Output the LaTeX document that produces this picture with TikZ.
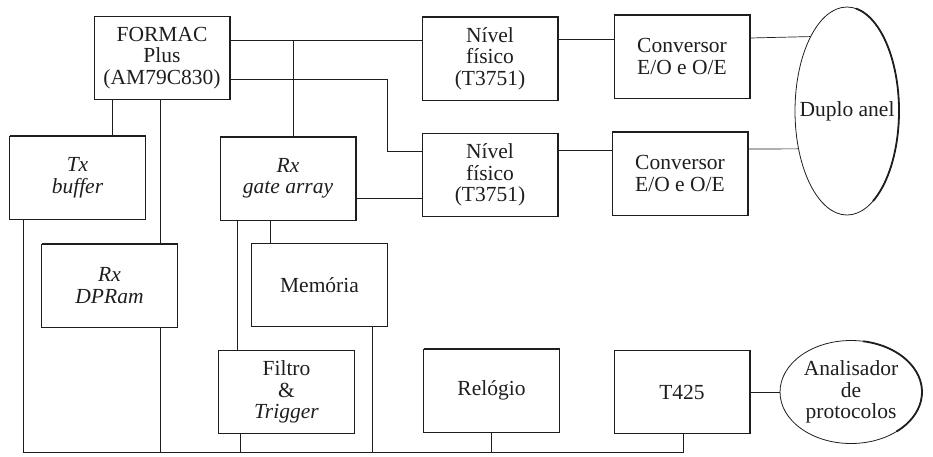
\documentclass[tikz,border=0pt]{standalone}
\usepackage{fontspec}
\setmainfont{Liberation Serif}
\usetikzlibrary{shapes.geometric,calc}
\definecolor{LineClr}{RGB}{30,30,30}

\begin{document}
\begin{tikzpicture}[x=1pt,y=-1pt,
  txt/.style={text=LineClr,align=center,font=\fontsize{21.5}{21.5}\selectfont},
  blk/.style={txt,draw=LineClr,line width=0.8pt,rectangle,inner sep=0pt,outer sep=0pt,
    minimum width=136pt,minimum height=83pt},
  oval/.style={txt,draw=LineClr,line width=0.8pt,ellipse,inner sep=0pt,outer sep=0pt},
  wire/.style={draw=LineClr,line width=0.7pt}]
\useasboundingbox (0,0) rectangle (933,456);

\node[blk] (formac) at (162,58) {FORMAC\\Plus\\(AM79C830)};
\node[blk] (txbuf) at (77.5,177.5) {\textit{Tx}\\\textit{buffer}};
\node[blk] (rxgate) at (288,178.5) {\textit{Rx}\\\textit{gate array}};
\node[blk] (nivA) at (490,58.5) {Nível\\físico\\(T3751)};
\node[blk] (nivB) at (490,175) {Nível\\físico\\(T3751)};
\node[blk] (convA) at (682,56.5) {Conversor\\E/O e O/E};
\node[blk] (convB) at (680,173.5) {Conversor\\E/O e O/E};
\node[blk] (rxdpram) at (109.5,285.5) {\textit{Rx}\\\textit{DPRam}};
\node[blk] (memoria) at (319.5,285) {Memória};
\node[blk] (filtro) at (286.5,392) {Filtro\\\&\\\textit{Trigger}};
\node[blk] (relogio) at (491.5,390.5) {Relógio};
\node[blk] (t425) at (682,392) {T425};

\node[oval,minimum width=104pt,minimum height=208pt] (duplo) at (847,111) {};
\node[txt] (duploTxt) at (duplo.center) {Duplo anel};
\node[oval,minimum width=142pt,minimum height=103pt] (analis) at (851,392) {Analisador\\de\\protocolos};

% heavier top and right edges
\foreach \n in {formac,txbuf,rxgate,nivA,nivB,convA,convB,rxdpram,memoria,filtro,relogio,t425}
  \draw[line width=1.8pt,draw=LineClr] (\n.north west) -- (\n.north east) -- (\n.south east);
\draw[line width=1.8pt,draw=LineClr] ($(duplo.center)+(-80:52 and 104)$)
  arc[start angle=-80,end angle=60,x radius=52,y radius=104];
\draw[line width=1.8pt,draw=LineClr] ($(analis.center)+(-80:71 and 51.5)$)
  arc[start angle=-80,end angle=50,x radius=71,y radius=51.5];

\coordinate (jA) at (293,40);
\coordinate (jB) at (387,151);
\coordinate (busL) at (23,452);
\coordinate (busR) at (683,452);

\draw[wire] (formac.east |- jA) -- (nivA.west |- jA);
\draw[wire] (jA) -- (jA |- rxgate.north);
\draw[wire] (formac.east |- 0,79) -| (jB) -- (nivB.west |- jB);
\draw[wire] (rxgate.east |- 0,198) -- (nivB.west |- 0,198);
\draw[wire] (formac.south -| 112,0) -- (txbuf.north -| 112,0);
\draw[wire] (formac.south -| 160,0) -- (rxdpram.north -| 160,0);
\draw[wire] (rxdpram.south -| 160,0) -- (busL -| 160,0);
\draw[wire] (txbuf.south -| busL) -- (busL) -- (busR) -- (busR |- t425.south);
\draw[wire] (rxgate.south -| 237,0) -- (filtro.north -| 237,0);
\draw[wire] (rxgate.south -| 270,0) -- (memoria.north -| 270,0);
\draw[wire] (filtro.south -| 240,0) -- (busL -| 240,0);
\draw[wire] (memoria.south -| 372,0) -- (busL -| 372,0);
\draw[wire] (relogio.south -| 491,0) -- (busL -| 491,0);

\draw[wire] (nivA.east |- 0,39) -- (convA.west |- 0,39);
\draw[wire] (convA.east |- 0,38) -- (duplo.116.9);
\draw[wire] (nivB.east |- 0,150) -- (convB.west |- 0,150);
\draw[wire] (convB.east |- 0,149) -- (duplo.218.1);
\draw[wire] (t425) -- (analis);

\end{tikzpicture}
\end{document}
